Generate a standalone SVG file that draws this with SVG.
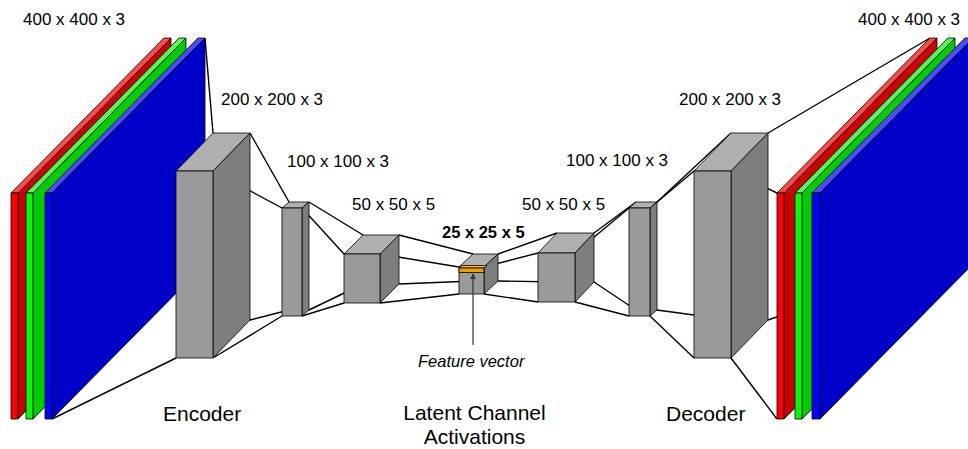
<svg xmlns="http://www.w3.org/2000/svg" width="968" height="449" viewBox="0 0 968 449">
<defs>
<marker id="ah" viewBox="0 0 10 10" refX="9" refY="5" markerWidth="6" markerHeight="6" orient="auto-start-reverse" markerUnits="userSpaceOnUse">
<path d="M0,0 L10,5 L0,10 z" fill="#333"/>
</marker>
</defs>
<style>
text{font-family:"Liberation Sans",Arial,sans-serif;fill:#000}
.lbl{font-size:17px}
.big{font-size:21px}
.b polygon,.b rect{stroke:#000;stroke-width:0.8;stroke-linejoin:round}
.gf{fill:#9a9a9a}.gt{fill:#b0b0b0}.gs{fill:#7e7e7e}
.rf{fill:#ff0000}.rt{fill:#ff4a4a}.rs{fill:#cc0000}
.nf{fill:#00ff00}.nt{fill:#4cff4c}.ns{fill:#00cc00}
.bf{fill:#0000ff}.bt{fill:#4a4aff}.bs{fill:#0000c8}
#connectors line{stroke:#000;stroke-width:1.4}
</style>
<rect width="968" height="449" fill="#fff"/>

<g id="connectors">
<line x1="52" y1="193" x2="176" y2="171"/>
<line x1="205" y1="38" x2="213" y2="133"/>
<line x1="52" y1="419" x2="176" y2="358"/>
<line x1="205" y1="264" x2="213" y2="320"/>
<line x1="213" y1="171" x2="282" y2="208"/>
<line x1="250" y1="133" x2="289" y2="202"/>
<line x1="213" y1="358" x2="282" y2="316"/>
<line x1="250" y1="320" x2="289" y2="310"/>
<line x1="302" y1="208" x2="344" y2="254"/>
<line x1="309" y1="202" x2="363" y2="235"/>
<line x1="302" y1="316" x2="344" y2="303"/>
<line x1="309" y1="310" x2="363" y2="284"/>
<line x1="380" y1="254" x2="459" y2="267"/>
<line x1="399" y1="235" x2="473" y2="254"/>
<line x1="380" y1="303" x2="459" y2="294"/>
<line x1="399" y1="284" x2="473" y2="281"/>
<line x1="484" y1="267" x2="538" y2="253"/>
<line x1="498" y1="254" x2="557" y2="233"/>
<line x1="484" y1="294" x2="538" y2="302"/>
<line x1="498" y1="281" x2="557" y2="282"/>
<line x1="575" y1="253" x2="629" y2="208"/>
<line x1="594" y1="233" x2="636" y2="202"/>
<line x1="575" y1="302" x2="629" y2="316"/>
<line x1="594" y1="282" x2="636" y2="310"/>
<line x1="650" y1="208" x2="694" y2="171"/>
<line x1="657" y1="202" x2="731" y2="133"/>
<line x1="650" y1="316" x2="694" y2="358"/>
<line x1="657" y1="310" x2="731" y2="320"/>
<line x1="731" y1="171" x2="777" y2="193"/>
<line x1="768" y1="133" x2="930" y2="38"/>
<line x1="731" y1="358" x2="777" y2="419"/>
<line x1="768" y1="320" x2="930" y2="264"/>
</g>

<g id="input-stack" class="b">
<polygon class="rt" points="11,193 18,193 171,38 164,38"/>
<polygon class="rs" points="18,193 171,38 171,264 18,419"/>
<rect class="rf" x="11" y="193" width="7" height="226"/>
<polygon class="nt" points="26,193 33,193 186,38 179,38"/>
<polygon class="ns" points="33,193 186,38 186,264 33,419"/>
<rect class="nf" x="26" y="193" width="7" height="226"/>
<polygon class="bt" points="45,193 52,193 205,38 198,38"/>
<polygon class="bs" points="52,193 205,38 205,264 52,419"/>
<rect class="bf" x="45" y="193" width="7" height="226"/>
</g>

<g id="enc1" class="b">
<polygon class="gt" points="176,171 213,171 250,133 213,133"/>
<polygon class="gs" points="213,171 250,133 250,320 213,358"/>
<rect class="gf" x="176" y="171" width="37" height="187"/>
</g>
<g id="enc2" class="b">
<polygon class="gt" points="282,208 302,208 309,202 289,202"/>
<polygon class="gs" points="302,208 309,202 309,310 302,316"/>
<rect class="gf" x="282" y="208" width="20" height="108"/>
</g>
<g id="enc3" class="b">
<polygon class="gt" points="344,254 380,254 399,235 363,235"/>
<polygon class="gs" points="380,254 399,235 399,284 380,303"/>
<rect class="gf" x="344" y="254" width="36" height="49"/>
</g>
<g id="latent" class="b">
<polygon class="gt" points="459,267 484,267 498,254 473,254"/>
<polygon class="gs" points="484,267 498,254 498,281 484,294"/>
<rect class="gf" x="459" y="267" width="25" height="27"/>
<polygon points="459,268 484,268 487,265.5 462,265.5" fill="#ffc040"/>
<rect x="459" y="268" width="25" height="4.5" fill="#f29a00"/>
</g>
<g id="dec1" class="b">
<polygon class="gt" points="538,253 575,253 594,233 557,233"/>
<polygon class="gs" points="575,253 594,233 594,282 575,302"/>
<rect class="gf" x="538" y="253" width="37" height="49"/>
</g>
<g id="dec2" class="b">
<polygon class="gt" points="629,208 650,208 657,202 636,202"/>
<polygon class="gs" points="650,208 657,202 657,310 650,316"/>
<rect class="gf" x="629" y="208" width="21" height="108"/>
</g>
<g id="dec3" class="b">
<polygon class="gt" points="694,171 731,171 768,133 731,133"/>
<polygon class="gs" points="731,171 768,133 768,320 731,358"/>
<rect class="gf" x="694" y="171" width="37" height="187"/>
</g>

<g id="output-stack" class="b">
<polygon class="rt" points="777,193 784,193 937,38 930,38"/>
<polygon class="rs" points="784,193 937,38 937,264 784,419"/>
<rect class="rf" x="777" y="193" width="7" height="226"/>
<polygon class="nt" points="795,193 802,193 955,38 948,38"/>
<polygon class="ns" points="802,193 955,38 955,264 802,419"/>
<rect class="nf" x="795" y="193" width="7" height="226"/>
<polygon class="bt" points="812,193 820,193 973,38 965,38"/>
<polygon class="bs" points="820,193 973,38 973,264 820,419"/>
<rect class="bf" x="812" y="193" width="8" height="226"/>
</g>

<g id="feature-vector">
<line x1="473" y1="345" x2="473" y2="274" stroke="#333" stroke-width="1.2" marker-end="url(#ah)"/>
<text x="418" y="367" style="font-size:16.5px;font-style:italic">Feature vector</text>
</g>

<g id="labels">
<text class="lbl" x="23" y="25">400 x 400 x 3</text>
<text class="lbl" x="221" y="105">200 x 200 x 3</text>
<text class="lbl" x="287" y="167">100 x 100 x 3</text>
<text class="lbl" x="352" y="210">50 x 50 x 5</text>
<text x="442" y="238" style="font-size:16.5px;font-weight:bold">25 x 25 x 5</text>
<text class="lbl" x="522" y="210">50 x 50 x 5</text>
<text class="lbl" x="566" y="166">100 x 100 x 3</text>
<text class="lbl" x="679" y="105">200 x 200 x 3</text>
<text class="lbl" x="858" y="25">400 x 400 x 3</text>
<text class="big" x="163" y="421">Encoder</text>
<text class="big" x="474.5" y="420" text-anchor="middle">Latent Channel</text>
<text class="big" x="474.5" y="444" text-anchor="middle">Activations</text>
<text class="big" x="666" y="421">Decoder</text>
</g>
</svg>
